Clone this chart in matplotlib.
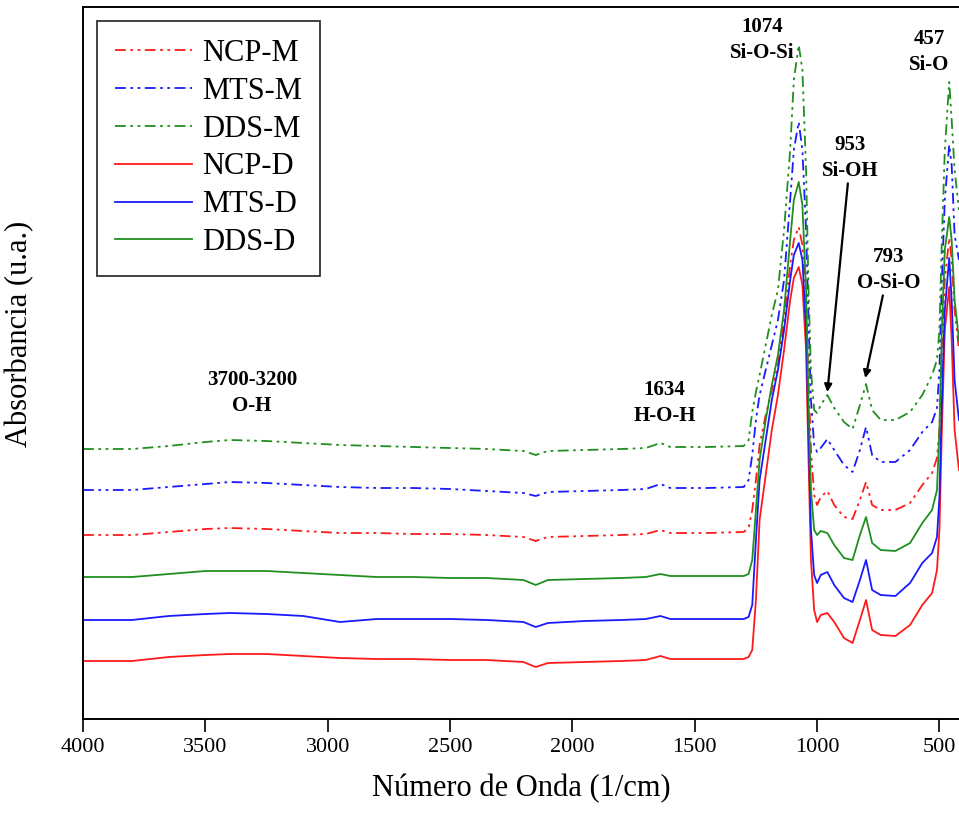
import numpy as np
import matplotlib
matplotlib.use("Agg")
import matplotlib.pyplot as plt

plt.rcParams['font.family'] = ['Liberation Serif', 'DejaVu Serif']

# wavenumber grid (1/cm), flat part + band region
wn_flat = [4000, 3800, 3650, 3500, 3400, 3250, 3100, 2950, 2800, 2650, 2500,
           2350, 2200, 2150, 2100, 1950, 1800, 1700, 1640, 1600, 1450]
wn_band = [1300, 1280, 1265, 1250, 1235, 1210, 1185, 1160, 1135, 1110, 1095,
           1075, 1060, 1045, 1035, 1025, 1012, 1000, 985, 958, 930, 890, 855,
           825, 800, 775, 740, 680, 620, 570, 530, 510, 500, 490, 478, 460,
           450, 438, 420]
wavenumber = wn_flat + wn_band

# absorbance (u.a.)
dds_m = [0.270, 0.270, 0.273, 0.277, 0.279, 0.278, 0.276, 0.274, 0.273, 0.272, 0.271,
         0.270, 0.268, 0.264, 0.268, 0.269, 0.270, 0.271, 0.276, 0.272, 0.272,
         0.273, 0.279, 0.307, 0.327, 0.344, 0.374, 0.404, 0.429, 0.489, 0.569, 0.639,
         0.674, 0.649, 0.549, 0.429, 0.349, 0.309, 0.306, 0.314, 0.324, 0.311, 0.297, 0.290,
         0.314, 0.335, 0.309, 0.299, 0.299, 0.307, 0.324, 0.344, 0.359, 0.389, 0.479, 0.569,
         0.637, 0.599, 0.549, 0.509]
mts_m = [0.229, 0.229, 0.232, 0.235, 0.237, 0.236, 0.234, 0.232, 0.231, 0.231, 0.230,
         0.228, 0.226, 0.223, 0.227, 0.228, 0.229, 0.230, 0.235, 0.231, 0.231,
         0.232, 0.239, 0.264, 0.299, 0.324, 0.349, 0.374, 0.399, 0.439, 0.519, 0.569,
         0.597, 0.569, 0.489, 0.399, 0.319, 0.274, 0.267, 0.271, 0.280, 0.269, 0.254, 0.247,
         0.269, 0.292, 0.264, 0.257, 0.257, 0.269, 0.287, 0.297, 0.311, 0.349, 0.439, 0.519,
         0.574, 0.554, 0.484, 0.459]
ncp_m = [0.184, 0.184, 0.187, 0.190, 0.191, 0.190, 0.188, 0.186, 0.186, 0.185, 0.185,
         0.184, 0.182, 0.178, 0.182, 0.183, 0.184, 0.185, 0.189, 0.186, 0.186,
         0.187, 0.191, 0.209, 0.239, 0.274, 0.304, 0.329, 0.354, 0.399, 0.454, 0.479,
         0.492, 0.474, 0.419, 0.339, 0.269, 0.224, 0.214, 0.222, 0.228, 0.214, 0.202, 0.200,
         0.219, 0.237, 0.214, 0.209, 0.209, 0.216, 0.234, 0.246, 0.261, 0.289, 0.369, 0.439,
         0.481, 0.459, 0.409, 0.369]
dds_d = [0.142, 0.142, 0.145, 0.148, 0.148, 0.148, 0.146, 0.144, 0.142, 0.142, 0.141,
         0.141, 0.139, 0.134, 0.139, 0.140, 0.141, 0.142, 0.145, 0.143, 0.143,
         0.143, 0.145, 0.159, 0.209, 0.259, 0.299, 0.334, 0.364, 0.409, 0.479, 0.519,
         0.537, 0.514, 0.429, 0.319, 0.229, 0.189, 0.184, 0.188, 0.186, 0.174, 0.161, 0.159,
         0.184, 0.202, 0.176, 0.169, 0.168, 0.176, 0.196, 0.209, 0.229, 0.289, 0.389, 0.469,
         0.502, 0.479, 0.419, 0.379]
mts_d = [0.099, 0.099, 0.103, 0.105, 0.106, 0.105, 0.103, 0.097, 0.100, 0.100, 0.100,
         0.099, 0.097, 0.092, 0.096, 0.098, 0.099, 0.100, 0.103, 0.100, 0.100,
         0.100, 0.102, 0.114, 0.179, 0.239, 0.279, 0.319, 0.349, 0.389, 0.439, 0.464,
         0.476, 0.459, 0.389, 0.289, 0.189, 0.144, 0.136, 0.144, 0.147, 0.134, 0.121, 0.117,
         0.139, 0.159, 0.129, 0.124, 0.123, 0.136, 0.156, 0.166, 0.182, 0.222, 0.319, 0.409,
         0.461, 0.419, 0.339, 0.299]
ncp_d = [0.058, 0.058, 0.062, 0.064, 0.065, 0.065, 0.063, 0.061, 0.060, 0.060, 0.059,
         0.059, 0.057, 0.052, 0.056, 0.057, 0.058, 0.059, 0.063, 0.060, 0.060,
         0.060, 0.062, 0.069, 0.119, 0.199, 0.244, 0.289, 0.324, 0.369, 0.419, 0.441,
         0.452, 0.434, 0.369, 0.259, 0.159, 0.109, 0.097, 0.104, 0.106, 0.097, 0.081, 0.076,
         0.099, 0.119, 0.089, 0.084, 0.083, 0.094, 0.114, 0.126, 0.149, 0.189, 0.289, 0.389,
         0.432, 0.379, 0.289, 0.249]

RED, BLUE, GREEN = '#ff1a1a', '#1a1aff', '#1f8f1f'
dashdotdot = (0, (6, 2.5, 1.5, 2.5, 1.5, 2.5))

series = [
    ("NCP-M", ncp_m, RED, dashdotdot),
    ("MTS-M", mts_m, BLUE, dashdotdot),
    ("DDS-M", dds_m, GREEN, dashdotdot),
    ("NCP-D", ncp_d, RED, '-'),
    ("MTS-D", mts_d, BLUE, '-'),
    ("DDS-D", dds_d, GREEN, '-'),
]

fig = plt.figure(figsize=(9.59, 8.14), dpi=100)
ax = fig.add_axes([0.0866, 0.1167, 0.9134, 0.8747])

for name, y, col, ls in series:
    ax.plot(wavenumber, y, color=col, linestyle=ls, lw=1.3, label=name)

ax.set_xlim(4000, 420)
ax.set_ylim(0, 0.712)
ax.set_xticks([4000, 3500, 3000, 2500, 2000, 1500, 1000, 500])
ax.set_yticks([])
ax.tick_params(axis='x', direction='out', length=9, width=1.2, labelsize=16, pad=5)
ax.spines['right'].set_visible(False)
for s in ['left', 'bottom', 'top']:
    ax.spines[s].set_linewidth(1.4)

ax.set_xlabel("Número de Onda (1/cm)", fontsize=22, labelpad=12)
ax.set_ylabel("Absorbancia (u.a.)", fontsize=22)
ax.yaxis.set_label_coords(-0.056, 0.541)

leg = ax.legend(loc='upper left', bbox_to_anchor=(0.016, 0.981), fontsize=22,
                frameon=True, fancybox=False, handlelength=2.5, handletextpad=0.33,
                labelspacing=0.29, borderpad=0.6, borderaxespad=0)
leg.get_frame().set_edgecolor('black')
leg.get_frame().set_linewidth(1.3)

bold = dict(fontsize=15, fontweight='bold', ha='center', va='center', linespacing=1.35)
ax.text(1223, 0.679, "1074\nSi-O-Si", **bold)
ax.text(541, 0.667, "457\nSi-O", **bold)
ax.text(3310, 0.326, "3700-3200\nO-H", **bold)
ax.text(1624, 0.316, "1634\nH-O-H", **bold)

arrow = dict(arrowstyle='-|>', color='black', lw=1.6, mutation_scale=11, shrinkA=0, shrinkB=0)
ax.annotate("953\nSi-OH", xy=(958, 0.327), xytext=(864, 0.561), arrowprops=arrow, **bold)
ax.annotate("793\nO-Si-O", xy=(803, 0.341), xytext=(709, 0.449), arrowprops=arrow, **bold)

fig.savefig("out.png", dpi=100)
